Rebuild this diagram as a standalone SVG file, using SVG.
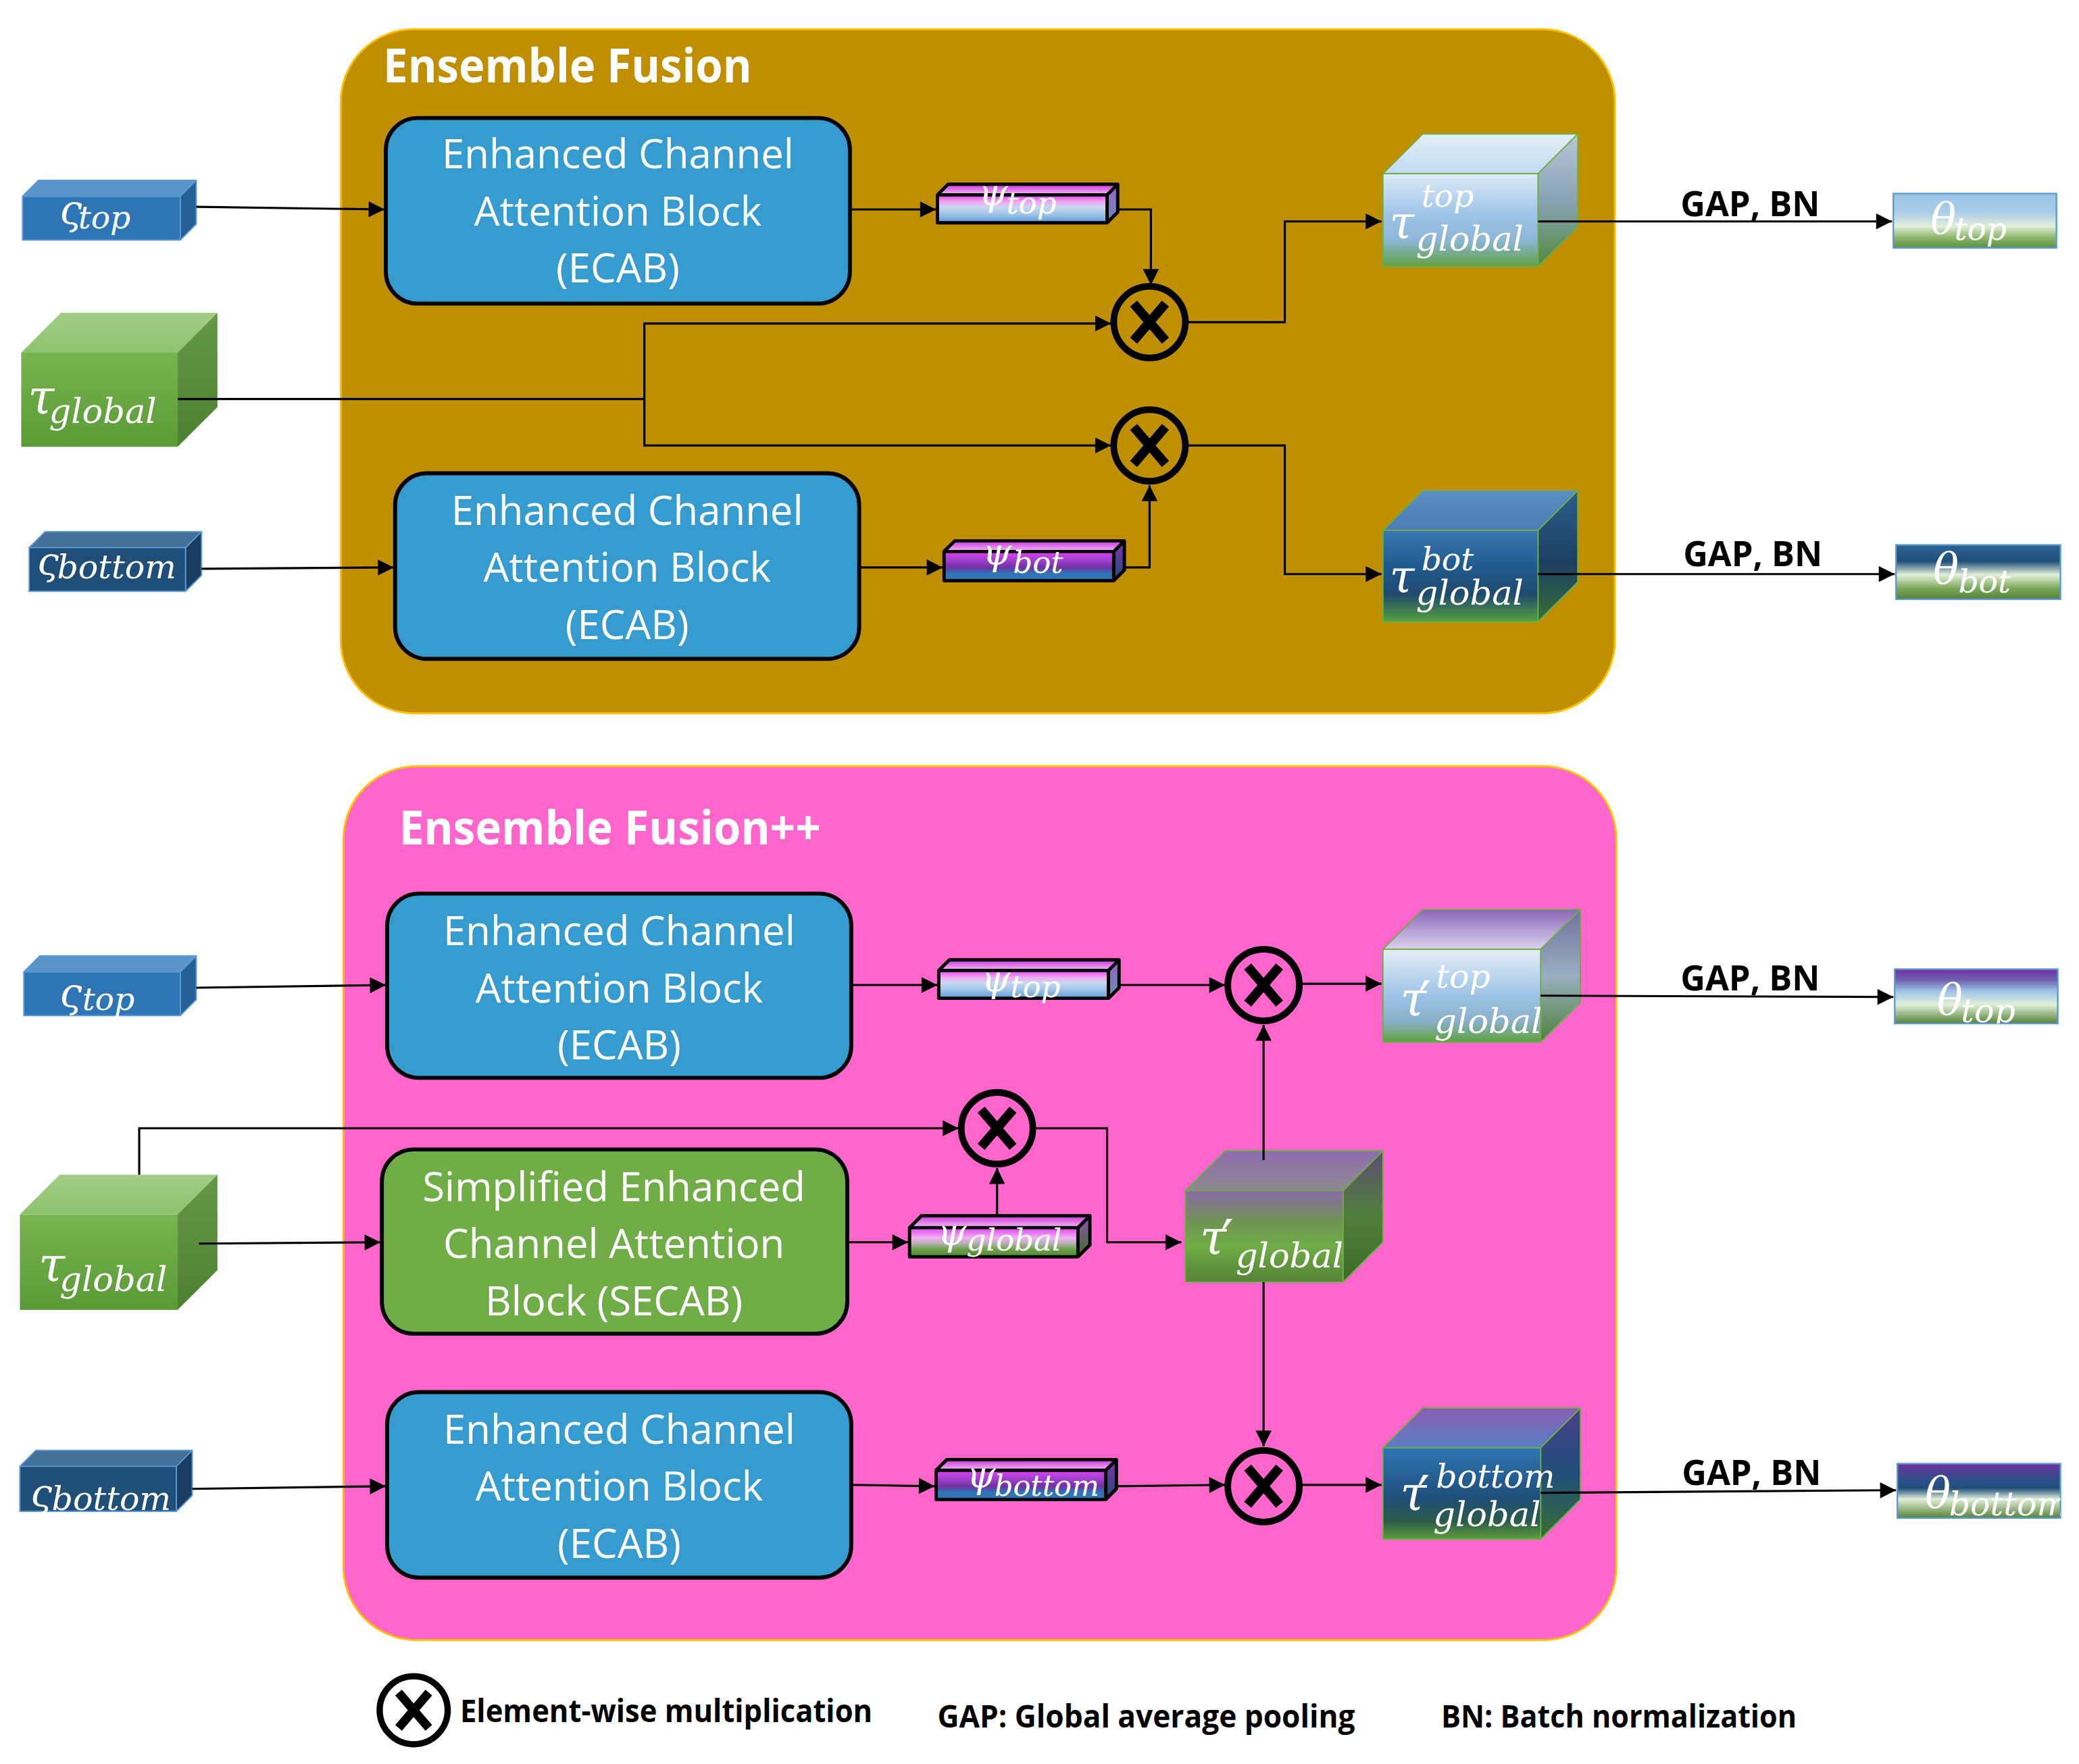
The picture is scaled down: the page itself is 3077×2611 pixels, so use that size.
<svg xmlns="http://www.w3.org/2000/svg" width="3077" height="2611" viewBox="0 0 3077 2611">
<style>
.panel{stroke:#FFC000;stroke-width:1.5}
.blk{stroke:#000;stroke-width:3}
.bt{font-family:"Open Sans","Liberation Sans",sans-serif;font-size:30.5px;fill:#fff;text-anchor:middle}
.ttl{font-family:"Open Sans","Liberation Sans",sans-serif;font-weight:bold;fill:#fff}
.lab{font-family:"Open Sans","Liberation Sans",sans-serif;font-weight:bold;fill:#000}
.m{font-family:"DejaVu Serif","Liberation Serif",serif;font-style:italic;fill:#fff}
.pr{font-family:"DejaVu Sans","Liberation Sans",sans-serif;font-style:normal}
.c{fill:none;stroke:#000;stroke-width:1.6;marker-end:url(#ah)}
.cn{fill:none;stroke:#000;stroke-width:1.6}
.edge{stroke-width:1}
.ot circle{fill:none;stroke:#000;stroke-width:5}
.ot path{stroke:#000;stroke-width:7;fill:none}
</style>
<defs>
<marker id="ah" viewBox="0 0 10 10" refX="10" refY="5" markerWidth="13" markerHeight="12" markerUnits="userSpaceOnUse" orient="auto"><path d="M0,0 L10,5 L0,10 z" fill="#000"/></marker>
<g id="otm" class="ot"><circle cx="0" cy="0" r="27"/><path d="M-12,-14 L12,14 M12,-14 L-12,14"/></g>
<linearGradient id="gTauIn" x1="0" y1="0" x2="0" y2="1"><stop offset="0" stop-color="#78B450"/><stop offset="1" stop-color="#5A9A37"/></linearGradient>
<linearGradient id="gTauInTop" x1="0" y1="0" x2="0" y2="1"><stop offset="0" stop-color="#A2CE86"/><stop offset="1" stop-color="#8DC26E"/></linearGradient>
<linearGradient id="gTauInR" x1="0" y1="0" x2="0" y2="1"><stop offset="0" stop-color="#649846"/><stop offset="1" stop-color="#4E8032"/></linearGradient>
<linearGradient id="gTT" x1="0" y1="0" x2="0" y2="1"><stop offset="0" stop-color="#DDEBF8"/><stop offset="0.45" stop-color="#9DC3E6"/><stop offset="0.72" stop-color="#8DB6D6"/><stop offset="1" stop-color="#5FA040"/></linearGradient>
<linearGradient id="gTTtop" x1="0" y1="0" x2="0" y2="1"><stop offset="0" stop-color="#E4EFF9"/><stop offset="1" stop-color="#C2DAF0"/></linearGradient>
<linearGradient id="gTTr" x1="0" y1="0" x2="0" y2="1"><stop offset="0" stop-color="#B7C8D8"/><stop offset="0.5" stop-color="#8AA2B6"/><stop offset="1" stop-color="#4E8A3C"/></linearGradient>
<linearGradient id="gTB" x1="0" y1="0" x2="0" y2="1"><stop offset="0" stop-color="#3A76B2"/><stop offset="0.4" stop-color="#1F5A8E"/><stop offset="0.7" stop-color="#1F4A6E"/><stop offset="1" stop-color="#56A040"/></linearGradient>
<linearGradient id="gTBtop" x1="0" y1="0" x2="0" y2="1"><stop offset="0" stop-color="#5C8EC4"/><stop offset="1" stop-color="#4A7DB4"/></linearGradient>
<linearGradient id="gTBr" x1="0" y1="0" x2="0" y2="1"><stop offset="0" stop-color="#2C5E8E"/><stop offset="0.55" stop-color="#1C3F60"/><stop offset="1" stop-color="#3A6F3A"/></linearGradient>
<linearGradient id="gTh1" x1="0" y1="0" x2="0" y2="1"><stop offset="0" stop-color="#9DC3E6"/><stop offset="0.35" stop-color="#AACDE9"/><stop offset="0.6" stop-color="#E2EFDA"/><stop offset="0.8" stop-color="#8FB870"/><stop offset="1" stop-color="#5B8F3A"/></linearGradient>
<linearGradient id="gTh2" x1="0" y1="0" x2="0" y2="1"><stop offset="0" stop-color="#2F6396"/><stop offset="0.3" stop-color="#1F4E79"/><stop offset="0.55" stop-color="#E2EFDA"/><stop offset="0.8" stop-color="#7BA85A"/><stop offset="1" stop-color="#548235"/></linearGradient>
<linearGradient id="gTh3" x1="0" y1="0" x2="0" y2="1"><stop offset="0" stop-color="#7030A0"/><stop offset="0.2" stop-color="#6F5FB0"/><stop offset="0.4" stop-color="#9DC3E6"/><stop offset="0.65" stop-color="#E2EFDA"/><stop offset="1" stop-color="#548235"/></linearGradient>
<linearGradient id="gTh4" x1="0" y1="0" x2="0" y2="1"><stop offset="0" stop-color="#7030A0"/><stop offset="0.3" stop-color="#2E4F8A"/><stop offset="0.45" stop-color="#1F4E79"/><stop offset="0.65" stop-color="#E2EFDA"/><stop offset="1" stop-color="#548235"/></linearGradient>
<linearGradient id="gPsT" x1="0" y1="0" x2="0" y2="1"><stop offset="0" stop-color="#E040F0"/><stop offset="0.25" stop-color="#F0A8F0"/><stop offset="0.45" stop-color="#C8D8F0"/><stop offset="0.7" stop-color="#9DC3E6"/><stop offset="1" stop-color="#5B9BD5"/></linearGradient>
<linearGradient id="gPsB" x1="0" y1="0" x2="0" y2="1"><stop offset="0" stop-color="#E040F0"/><stop offset="0.3" stop-color="#A040D0"/><stop offset="0.55" stop-color="#7030A0"/><stop offset="0.75" stop-color="#2E75B6"/><stop offset="1" stop-color="#2E75B6"/></linearGradient>
<linearGradient id="gPsG" x1="0" y1="0" x2="0" y2="1"><stop offset="0" stop-color="#E040F0"/><stop offset="0.35" stop-color="#F0B0F0"/><stop offset="0.55" stop-color="#B0B0B0"/><stop offset="0.75" stop-color="#6A9F45"/><stop offset="1" stop-color="#4E8A2E"/></linearGradient>
<linearGradient id="gPsTop" x1="0" y1="0" x2="0" y2="1"><stop offset="0" stop-color="#CC33DD"/><stop offset="1" stop-color="#F4BCF4"/></linearGradient>
<linearGradient id="gPsRT" x1="0" y1="0" x2="0" y2="1"><stop offset="0" stop-color="#A060C8"/><stop offset="1" stop-color="#6090B8"/></linearGradient>
<linearGradient id="gPsRB" x1="0" y1="0" x2="0" y2="1"><stop offset="0" stop-color="#8030B0"/><stop offset="1" stop-color="#1F4E79"/></linearGradient>
<linearGradient id="gPsRG" x1="0" y1="0" x2="0" y2="1"><stop offset="0" stop-color="#9050B0"/><stop offset="1" stop-color="#3E7030"/></linearGradient>
<linearGradient id="gTP" x1="0" y1="0" x2="0" y2="1"><stop offset="0" stop-color="#8A6AA8"/><stop offset="0.35" stop-color="#6E9550"/><stop offset="0.6" stop-color="#70AD47"/><stop offset="1" stop-color="#548235"/></linearGradient>
<linearGradient id="gTPtop" x1="0" y1="0" x2="0" y2="1"><stop offset="0" stop-color="#8E6BB0"/><stop offset="1" stop-color="#8E8A8E"/></linearGradient>
<linearGradient id="gTPr" x1="0" y1="0" x2="0" y2="1"><stop offset="0" stop-color="#5E4E72"/><stop offset="0.5" stop-color="#4F7F3A"/><stop offset="1" stop-color="#3E6A2A"/></linearGradient>
<linearGradient id="gTPT" x1="0" y1="0" x2="0" y2="1"><stop offset="0" stop-color="#E6ECF8"/><stop offset="0.5" stop-color="#9DC3E6"/><stop offset="0.78" stop-color="#8AB0C8"/><stop offset="1" stop-color="#5EA03C"/></linearGradient>
<linearGradient id="gTPTtop" x1="0" y1="0" x2="0" y2="1"><stop offset="0" stop-color="#8C66B8"/><stop offset="1" stop-color="#DAD2EE"/></linearGradient>
<linearGradient id="gTPTr" x1="0" y1="0" x2="0" y2="1"><stop offset="0" stop-color="#7070A0"/><stop offset="0.5" stop-color="#9AAFC0"/><stop offset="1" stop-color="#4E7F3C"/></linearGradient>
<linearGradient id="gTPB" x1="0" y1="0" x2="0" y2="1"><stop offset="0" stop-color="#2E75B6"/><stop offset="0.55" stop-color="#1F4E79"/><stop offset="0.8" stop-color="#2B5A4A"/><stop offset="1" stop-color="#5EA03C"/></linearGradient>
<linearGradient id="gTPBtop" x1="0" y1="0" x2="0" y2="1"><stop offset="0" stop-color="#8A5CB4"/><stop offset="1" stop-color="#5B80C4"/></linearGradient>
<linearGradient id="gTPBr" x1="0" y1="0" x2="0" y2="1"><stop offset="0" stop-color="#4A3E8A"/><stop offset="0.5" stop-color="#1F4E79"/><stop offset="1" stop-color="#3A6F35"/></linearGradient>
<clipPath id="cp1"><rect x="1428" y="146" width="123" height="41"/></clipPath>
<clipPath id="cp2"><rect x="1430" y="411" width="124" height="41"/></clipPath>
<clipPath id="cp3"><rect x="1429" y="731" width="123" height="41"/></clipPath>
<clipPath id="cp4"><rect x="1431" y="1104" width="123" height="41"/></clipPath>
</defs>
<rect width="3077" height="2611" fill="#fff"/>
<g transform="scale(1.96237)">

<g id="panel-ef">
<rect class="panel" x="257" y="22" width="961" height="516" rx="55" fill="#BF8F00"/>
<text class="ttl" x="289" y="62" font-size="36" textLength="278" lengthAdjust="spacingAndGlyphs">Ensemble Fusion</text>
</g>
<g id="panel-efpp">
<rect class="panel" x="259" y="578" width="960" height="659" rx="55" fill="#FF66CC"/>
<text class="ttl" x="301" y="637" font-size="36" textLength="318" lengthAdjust="spacingAndGlyphs">Ensemble Fusion++</text>
</g>

<!-- top panel nodes -->
<g id="s-top-1">
<rect x="17" y="148" width="119" height="33" fill="#2E75B6"/>
<polygon points="17,148 29,136 148,136 136,148" fill="#5B93CC"/>
<polygon points="136,148 148,136 148,169 136,181" fill="#255F96"/>
<path d="M17,148 H136 V181 H17 Z M17,148 L29,136 H148 V169 L136,181 M136,148 L148,136" fill="none" stroke="#5B9BD5" class="edge"/>
<text class="m" x="45" y="169" font-size="30">ς<tspan x="59" y="172" font-size="24">top</tspan></text>
</g>
<g id="tau-global-1">
<rect x="16" y="266" width="118" height="71" fill="url(#gTauIn)"/>
<polygon points="16,266 46,236 164,236 134,266" fill="url(#gTauInTop)"/>
<polygon points="134,266 164,236 164,307 134,337" fill="url(#gTauInR)"/>
<text class="m" x="21" y="312" font-size="36">τ<tspan x="37" y="319" font-size="26">global</tspan></text>
</g>
<g id="s-bottom-1">
<rect x="22" y="413" width="118" height="33" fill="#1F4E79"/>
<polygon points="22,413 34,401 152,401 140,413" fill="#44709A"/>
<polygon points="140,413 152,401 152,434 140,446" fill="#183D60"/>
<path d="M22,413 H140 V446 H22 Z M22,413 L34,401 H152 V434 L140,446 M140,413 L152,401" fill="none" stroke="#5B9BD5" class="edge"/>
<text class="m" x="28" y="433" font-size="29">ς<tspan x="43" y="436" font-size="25">bottom</tspan></text>
</g>
<g id="ecab-1">
<rect class="blk" x="291" y="89" width="350" height="140" rx="24" fill="#369BCE"/>
<text class="bt" x="466" y="127">Enhanced Channel</text>
<text class="bt" x="466" y="170">Attention Block</text>
<text class="bt" x="466" y="213">(ECAB)</text>
</g>
<g id="ecab-2">
<rect class="blk" x="298" y="357" width="350" height="140" rx="24" fill="#369BCE"/>
<text class="bt" x="473" y="396">Enhanced Channel</text>
<text class="bt" x="473" y="439">Attention Block</text>
<text class="bt" x="473" y="482">(ECAB)</text>
</g>
<g id="psi-top-1">
<rect x="707" y="147" width="128" height="21" fill="url(#gPsT)"/>
<polygon points="707,147 715,139 843,139 835,147" fill="url(#gPsTop)"/>
<polygon points="835,147 843,139 843,160 835,168" fill="url(#gPsRT)"/>
<path d="M707,147 H835 V168 H707 Z M707,147 L715,139 H843 V160 L835,168 M835,147 L843,139" fill="none" stroke="#000" stroke-width="2.5" stroke-linejoin="round"/>
<text class="m" x="738" y="155" font-size="28">ψ<tspan x="759" y="161" font-size="23">top</tspan></text>
</g>
<g id="psi-bot-1">
<rect x="712" y="416" width="128" height="22" fill="url(#gPsB)"/>
<polygon points="712,416 720,408 848,408 840,416" fill="url(#gPsTop)"/>
<polygon points="840,416 848,408 848,430 840,438" fill="url(#gPsRB)"/>
<path d="M712,416 H840 V438 H712 Z M712,416 L720,408 H848 V430 L840,438 M840,416 L848,408" fill="none" stroke="#000" stroke-width="2.5" stroke-linejoin="round"/>
<text class="m" x="741" y="426" font-size="28">ψ<tspan x="764" y="432" font-size="23">bot</tspan></text>
</g>
<g id="mul-1"><use href="#otm" transform="translate(867,243)"/></g>
<g id="mul-2"><use href="#otm" transform="translate(867,336)"/></g>
<g id="tau-top-global">
<rect x="1043" y="131" width="117" height="70" fill="url(#gTT)"/>
<polygon points="1043,131 1073,101 1190,101 1160,131" fill="url(#gTTtop)"/>
<polygon points="1160,131 1190,101 1190,171 1160,201" fill="url(#gTTr)"/>
<path d="M1043,131 H1160 V201 H1043 Z M1043,131 L1073,101 H1190 V171 L1160,201 M1160,131 L1190,101" fill="none" stroke="#70AD47" class="edge"/>
<text class="m" x="1048" y="180" font-size="34">τ<tspan x="1072" y="156" font-size="24">top</tspan><tspan x="1068" y="189" font-size="26">global</tspan></text>
</g>
<g id="tau-bot-global">
<rect x="1043" y="400" width="117" height="69" fill="url(#gTB)"/>
<polygon points="1043,400 1073,370 1190,370 1160,400" fill="url(#gTBtop)"/>
<polygon points="1160,400 1190,370 1190,439 1160,469" fill="url(#gTBr)"/>
<path d="M1043,400 H1160 V469 H1043 Z M1043,400 L1073,370 H1190 V439 L1160,469 M1160,400 L1190,370" fill="none" stroke="#70AD47" class="edge"/>
<text class="m" x="1048" y="447" font-size="34">τ<tspan x="1072" y="430" font-size="24">bot</tspan><tspan x="1068" y="456" font-size="26">global</tspan></text>
</g>
<g id="theta-top-1">
<rect x="1428" y="146" width="123" height="41" fill="url(#gTh1)" stroke="#5B9BD5" stroke-width="1.2"/>
<text class="m" clip-path="url(#cp1)" x="1456" y="176" font-size="32">θ<tspan x="1474" y="181" font-size="24">top</tspan></text>
</g>
<g id="theta-bot-1">
<rect x="1430" y="411" width="124" height="41" fill="url(#gTh2)" stroke="#5B9BD5" stroke-width="1.2"/>
<text class="m" clip-path="url(#cp2)" x="1458" y="440" font-size="32">θ<tspan x="1477" y="447" font-size="24">bot</tspan></text>
</g>
<g id="gapbn-1"><text class="lab" x="1320" y="163" font-size="26" text-anchor="middle" textLength="105" lengthAdjust="spacingAndGlyphs">GAP, BN</text></g>
<g id="gapbn-2"><text class="lab" x="1322" y="427" font-size="26" text-anchor="middle" textLength="105" lengthAdjust="spacingAndGlyphs">GAP, BN</text></g>

<!-- bottom panel nodes -->
<g id="s-top-2">
<rect x="18" y="733" width="118" height="33" fill="#2E75B6"/>
<polygon points="18,733 30,721 148,721 136,733" fill="#5B93CC"/>
<polygon points="136,733 148,721 148,754 136,766" fill="#255F96"/>
<path d="M18,733 H136 V766 H18 Z M18,733 L30,721 H148 V754 L136,766 M136,733 L148,721" fill="none" stroke="#5B9BD5" class="edge"/>
<text class="m" x="45" y="760" font-size="30">ς<tspan x="62" y="762" font-size="24">top</tspan></text>
</g>
<g id="tau-global-2">
<rect x="15" y="916" width="119" height="72" fill="url(#gTauIn)"/>
<polygon points="15,916 45,886 164,886 134,916" fill="url(#gTauInTop)"/>
<polygon points="134,916 164,886 164,958 134,988" fill="url(#gTauInR)"/>
<text class="m" x="29" y="966" font-size="36">τ<tspan x="45" y="974" font-size="26">global</tspan></text>
</g>
<g id="s-bottom-2">
<rect x="15" y="1106" width="118" height="34" fill="#1F4E79"/>
<polygon points="15,1106 27,1094 145,1094 133,1106" fill="#44709A"/>
<polygon points="133,1106 145,1094 145,1128 133,1140" fill="#183D60"/>
<path d="M15,1106 H133 V1140 H15 Z M15,1106 L27,1094 H145 V1128 L133,1140 M133,1106 L145,1094" fill="none" stroke="#5B9BD5" class="edge"/>
<text class="m" x="23" y="1136" font-size="29">ς<tspan x="39" y="1139" font-size="25">bottom</tspan></text>
</g>
<g id="ecab-3">
<rect class="blk" x="292" y="674" width="350" height="139" rx="24" fill="#369BCE"/>
<text class="bt" x="467" y="713">Enhanced Channel</text>
<text class="bt" x="467" y="756">Attention Block</text>
<text class="bt" x="467" y="799">(ECAB)</text>
</g>
<g id="secab">
<rect class="blk" x="288" y="867" width="351" height="139" rx="24" fill="#70AD47"/>
<text class="bt" x="463" y="906">Simplified Enhanced</text>
<text class="bt" x="463" y="949">Channel Attention</text>
<text class="bt" x="463" y="992">Block (SECAB)</text>
</g>
<g id="ecab-4">
<rect class="blk" x="292" y="1050" width="350" height="140" rx="24" fill="#369BCE"/>
<text class="bt" x="467" y="1089">Enhanced Channel</text>
<text class="bt" x="467" y="1132">Attention Block</text>
<text class="bt" x="467" y="1175">(ECAB)</text>
</g>
<g id="psi-top-2">
<rect x="708" y="732" width="128" height="21" fill="url(#gPsT)"/>
<polygon points="708,732 716,724 844,724 836,732" fill="url(#gPsTop)"/>
<polygon points="836,732 844,724 844,745 836,753" fill="url(#gPsRT)"/>
<path d="M708,732 H836 V753 H708 Z M708,732 L716,724 H844 V745 L836,753 M836,732 L844,724" fill="none" stroke="#000" stroke-width="2.5" stroke-linejoin="round"/>
<text class="m" x="740" y="748" font-size="28">ψ<tspan x="762" y="752" font-size="23">top</tspan></text>
</g>
<g id="psi-global">
<rect x="686" y="926" width="127" height="22" fill="url(#gPsG)"/>
<polygon points="686,926 695,917 822,917 813,926" fill="url(#gPsTop)"/>
<polygon points="813,926 822,917 822,939 813,948" fill="url(#gPsRG)"/>
<path d="M686,926 H813 V948 H686 Z M686,926 L695,917 H822 V939 L813,948 M813,926 L822,917" fill="none" stroke="#000" stroke-width="2.5" stroke-linejoin="round"/>
<text class="m" x="707" y="939" font-size="28">ψ<tspan x="729" y="943" font-size="23">global</tspan></text>
</g>
<g id="psi-bottom">
<rect x="706" y="1109" width="128" height="22" fill="url(#gPsB)"/>
<polygon points="706,1109 714,1101 842,1101 834,1109" fill="url(#gPsTop)"/>
<polygon points="834,1109 842,1101 842,1123 834,1131" fill="url(#gPsRB)"/>
<path d="M706,1109 H834 V1131 H706 Z M706,1109 L714,1101 H842 V1123 L834,1131 M834,1109 L842,1101" fill="none" stroke="#000" stroke-width="2.5" stroke-linejoin="round"/>
<text class="m" x="729" y="1122" font-size="28">ψ<tspan x="750" y="1128" font-size="22">bottom</tspan></text>
</g>
<g id="mul-3"><use href="#otm" transform="translate(752,851)"/></g>
<g id="mul-4"><use href="#otm" transform="translate(953,743)"/></g>
<g id="mul-5"><use href="#otm" transform="translate(953,1121)"/></g>
<g id="tau-prime-global">
<rect x="894" y="898" width="119" height="69" fill="url(#gTP)"/>
<polygon points="894,898 924,868 1043,868 1013,898" fill="url(#gTPtop)"/>
<polygon points="1013,898 1043,868 1043,937 1013,967" fill="url(#gTPr)"/>
<path d="M894,898 H1013 V967 H894 Z M894,898 L924,868 H1043 V937 L1013,967 M1013,898 L1043,868" fill="none" stroke="#70AD47" class="edge"/>
<text class="m" x="905" y="946" font-size="36">τ<tspan class="pr" x="921" y="950" font-size="42">′</tspan><tspan x="932" y="956" font-size="26">global</tspan></text>
</g>
<g id="tau-prime-top-global">
<rect x="1043" y="716" width="119" height="70" fill="url(#gTPT)"/>
<polygon points="1043,716 1073,686 1192,686 1162,716" fill="url(#gTPTtop)"/>
<polygon points="1162,716 1192,686 1192,756 1162,786" fill="url(#gTPTr)"/>
<path d="M1043,716 H1162 V786 H1043 Z M1043,716 L1073,686 H1192 V756 L1162,786 M1162,716 L1192,686" fill="none" stroke="#70AD47" class="edge"/>
<text class="m" x="1056" y="766" font-size="36">τ<tspan class="pr" x="1070" y="770" font-size="42">′</tspan><tspan x="1083" y="745" font-size="25">top</tspan><tspan x="1082" y="779" font-size="26">global</tspan></text>
</g>
<g id="tau-prime-bottom-global">
<rect x="1043" y="1092" width="119" height="69" fill="url(#gTPB)"/>
<polygon points="1043,1092 1073,1062 1192,1062 1162,1092" fill="url(#gTPBtop)"/>
<polygon points="1162,1092 1192,1062 1192,1131 1162,1161" fill="url(#gTPBr)"/>
<path d="M1043,1092 H1162 V1161 H1043 Z M1043,1092 L1073,1062 H1192 V1131 L1162,1161 M1162,1092 L1192,1062" fill="none" stroke="#70AD47" class="edge"/>
<text class="m" x="1056" y="1139" font-size="36">τ<tspan class="pr" x="1069" y="1143" font-size="42">′</tspan><tspan x="1083" y="1122" font-size="25">bottom</tspan><tspan x="1081" y="1151" font-size="26">global</tspan></text>
</g>
<g id="theta-top-2">
<rect x="1429" y="731" width="123" height="41" fill="url(#gTh3)" stroke="#5B9BD5" stroke-width="1.2"/>
<text class="m" clip-path="url(#cp3)" x="1461" y="765" font-size="32">θ<tspan x="1479" y="771" font-size="25">top</tspan></text>
</g>
<g id="theta-bottom-2">
<rect x="1431" y="1104" width="123" height="41" fill="url(#gTh4)" stroke="#5B9BD5" stroke-width="1.2"/>
<text class="m" clip-path="url(#cp4)" x="1452" y="1137" font-size="32">θ<tspan x="1470" y="1143" font-size="25">bottom</tspan></text>
</g>
<g id="gapbn-3"><text class="lab" x="1320" y="747" font-size="26" text-anchor="middle" textLength="105" lengthAdjust="spacingAndGlyphs">GAP, BN</text></g>
<g id="gapbn-4"><text class="lab" x="1321" y="1120" font-size="26" text-anchor="middle" textLength="105" lengthAdjust="spacingAndGlyphs">GAP, BN</text></g>

<!-- legend -->
<g id="legend">
<use href="#otm" transform="translate(312,1290) scale(0.95)"/>
<text class="lab" x="347" y="1299" font-size="24" textLength="311" lengthAdjust="spacingAndGlyphs">Element-wise multiplication</text>
<text class="lab" x="707" y="1303" font-size="24" textLength="315" lengthAdjust="spacingAndGlyphs">GAP: Global average pooling</text>
<text class="lab" x="1087" y="1303" font-size="24" textLength="268" lengthAdjust="spacingAndGlyphs">BN: Batch normalization</text>
</g>

<!-- connectors -->
<g id="connectors">
<path class="c" d="M148,156 L290,158"/>
<path class="c" d="M152,429 L297,428"/>
<path class="c" d="M641,158 H706"/>
<path class="c" d="M843,158 H868 V215"/>
<path class="cn" d="M134,301 H486"/>
<path class="c" d="M486,301 V244 H838"/>
<path class="c" d="M486,301 V336 H838"/>
<path class="c" d="M648,428 H711"/>
<path class="c" d="M848,428 H867 V366"/>
<path class="c" d="M896,243 H969 V167 H1042"/>
<path class="c" d="M896,336 H969 V433 H1042"/>
<path class="c" d="M1160,167 L1427,167"/>
<path class="c" d="M1160,433 L1429,433"/>

<path class="c" d="M148,745 L291,743"/>
<path class="c" d="M150,938 L287,937"/>
<path class="c" d="M145,1123 L291,1121"/>
<path class="c" d="M105,886 V851 H723"/>
<path class="c" d="M639,937 H685"/>
<path class="c" d="M752,917 V881"/>
<path class="c" d="M781,851 H835 V937 H891"/>
<path class="c" d="M953,875 V773"/>
<path class="c" d="M953,967 V1091"/>
<path class="c" d="M642,743 H707"/>
<path class="c" d="M844,743 H924"/>
<path class="c" d="M982,742 H1042"/>
<path class="c" d="M1162,751 L1428,752"/>
<path class="c" d="M642,1120 L705,1121"/>
<path class="c" d="M842,1121 L924,1120"/>
<path class="c" d="M982,1120 H1042"/>
<path class="c" d="M1162,1126 L1430,1124"/>
</g>
</g>
</svg>
